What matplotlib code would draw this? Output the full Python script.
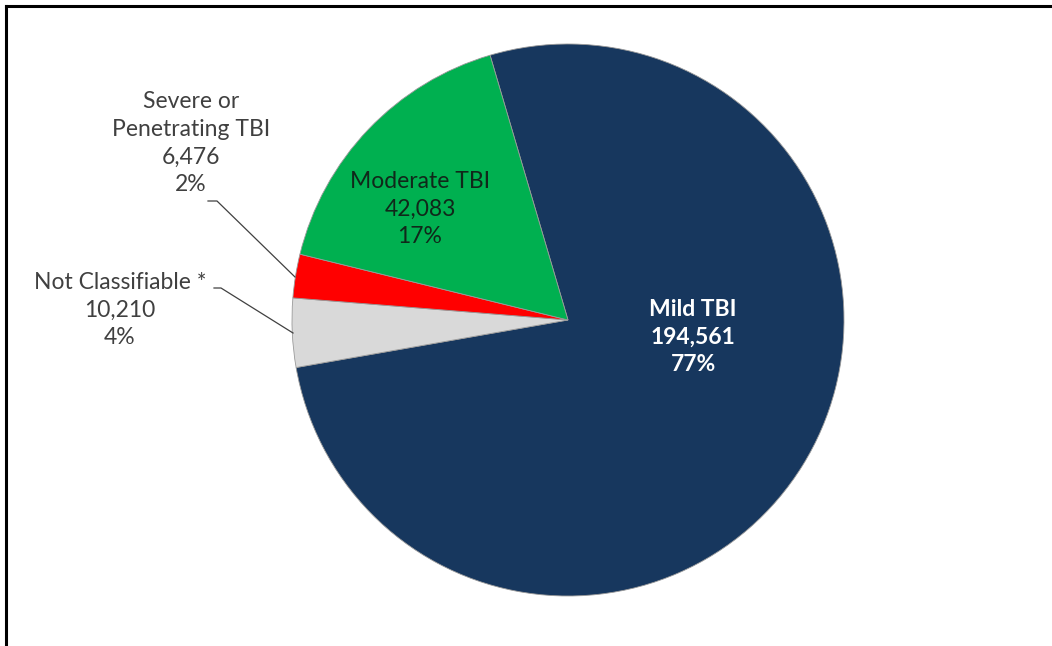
import matplotlib.pyplot as plt
from matplotlib.lines import Line2D

plt.rcParams['font.family'] = ['Lato', 'DejaVu Sans']

categories = ["Mild TBI", "Not Classifiable *", "Severe or\nPenetrating TBI", "Moderate TBI"]
counts = [194561, 10210, 6476, 42083]
pct_labels = ["77%", "4%", "2%", "17%"]
colors = ["#17375E", "#D9D9D9", "#FF0000", "#00B050"]

W, H = 1052, 646
fig = plt.figure(figsize=(W / 100, H / 100), dpi=100)

# pie centre (568, 320) px, radius 276 px
cx, cy, r = 568, 320, 276
ax = fig.add_axes([(cx - r) / W, (H - cy - r) / H, 2 * r / W, 2 * r / H])
ax.pie(counts, colors=colors, startangle=106.4, counterclock=False,
       wedgeprops=dict(edgecolor="#9a9a9a", linewidth=0.6))
ax.set_xlim(-1, 1)
ax.set_ylim(-1, 1)
ax.axis("off")


def px(x, y):
    return (x - cx) / r, (cy - y) / r


def label(i, x, y, color, weight="normal"):
    txt = f"{categories[i]}\n{counts[i]:,}\n{pct_labels[i]}"
    ax.text(*px(x, y), txt, ha="center", va="center", fontsize=16.5,
            color=color, fontweight=weight, linespacing=1.4, clip_on=False)


label(0, 693, 337, "white", "bold")
label(3, 420, 209, "#10281a")
label(2, 191, 143, "#404040")
label(1, 120, 310, "#404040")

# leader lines
for pts in ([(208, 201), (217, 201), (295, 277)],
            [(214, 288), (221, 288), (293, 333)]):
    xs, ys = zip(*[px(*p) for p in pts])
    ax.add_line(Line2D(xs, ys, color="#404040", lw=0.9, clip_on=False))

# black frame on top and left
fig.add_artist(Line2D([6 / W, 1], [1 - 6 / H] * 2, color="black", lw=2.2,
                      transform=fig.transFigure))
fig.add_artist(Line2D([6 / W] * 2, [0, 1 - 6 / H], color="black", lw=2.2,
                      transform=fig.transFigure))

fig.savefig("out.png", dpi=100, facecolor="white")
